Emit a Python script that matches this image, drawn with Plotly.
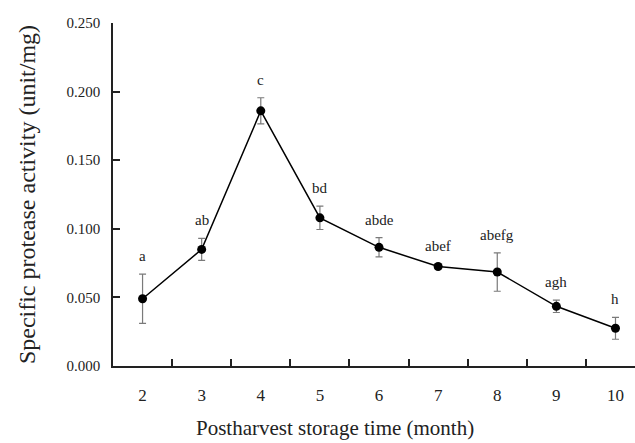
import plotly.graph_objects as go

months = ["2", "3", "4", "5", "6", "7", "8", "9", "10"]
activity = [0.049, 0.085, 0.186, 0.108, 0.0865, 0.0725, 0.0685, 0.0435, 0.0275]
errors = [0.018, 0.008, 0.0095, 0.0085, 0.007, 0.0015, 0.014, 0.0045, 0.008]
letters = ["a", "ab", "c", "bd", "abde", "abef", "abefg", "agh", "h"]
y_ticks = [0.0, 0.05, 0.10, 0.15, 0.20, 0.25]
y_tick_text = ["0.000", "0.050", "0.100", "0.150", "0.200", "0.250"]

serif = "Liberation Serif"

fig = go.Figure()
fig.add_trace(go.Scatter(
    x=months, y=activity,
    mode="lines+markers",
    line=dict(color="black", width=1.5),
    marker=dict(color="black", size=9),
    error_y=dict(type="data", array=errors, visible=True,
                 color="#7a7a7a", thickness=1.2, width=3.5),
    showlegend=False,
))

for i, (v, e, t) in enumerate(zip(activity, errors, letters)):
    fig.add_annotation(x=i, y=v + e, text=t, showarrow=False,
                       yanchor="bottom", yshift=8,
                       font=dict(family=serif, size=15, color="#222"))

fig.add_annotation(xref="paper", yref="paper", x=0.425, y=-0.182,
                   xanchor="center", yanchor="middle", showarrow=False,
                   text="Postharvest storage time (month)",
                   font=dict(family=serif, size=21, color="#222"))

fig.update_layout(
    width=635, height=443,
    margin=dict(l=113, r=0, t=23, b=77),
    paper_bgcolor="white", plot_bgcolor="white",
    font=dict(family=serif, color="#222"),
    xaxis=dict(
        type="category", range=[-0.5, 8.33],
        tickson="boundaries", ticks="inside", ticklen=7, tickwidth=1.5,
        tickcolor="#222",
        showline=True, linecolor="#222", linewidth=1.5,
        showgrid=False, zeroline=False,
        tickfont=dict(family=serif, size=17, color="#222"),
        ticklabelstandoff=13,
    ),
    yaxis=dict(
        range=[0, 0.25], tickvals=y_ticks, ticktext=y_tick_text,
        ticks="inside", ticklen=7, tickwidth=1.5, tickcolor="#222",
        showline=True, linecolor="#222", linewidth=1.5,
        showgrid=False, zeroline=False,
        tickfont=dict(family=serif, size=15, color="#222"),
        ticklabelstandoff=8,
        title=dict(text="Specific protease activity (unit/mg)",
                   font=dict(family=serif, size=24, color="#222"), standoff=24),
    ),
)

fig.write_html("out.html", config={"displayModeBar": False},
               post_script="document.body.style.margin='0';")
